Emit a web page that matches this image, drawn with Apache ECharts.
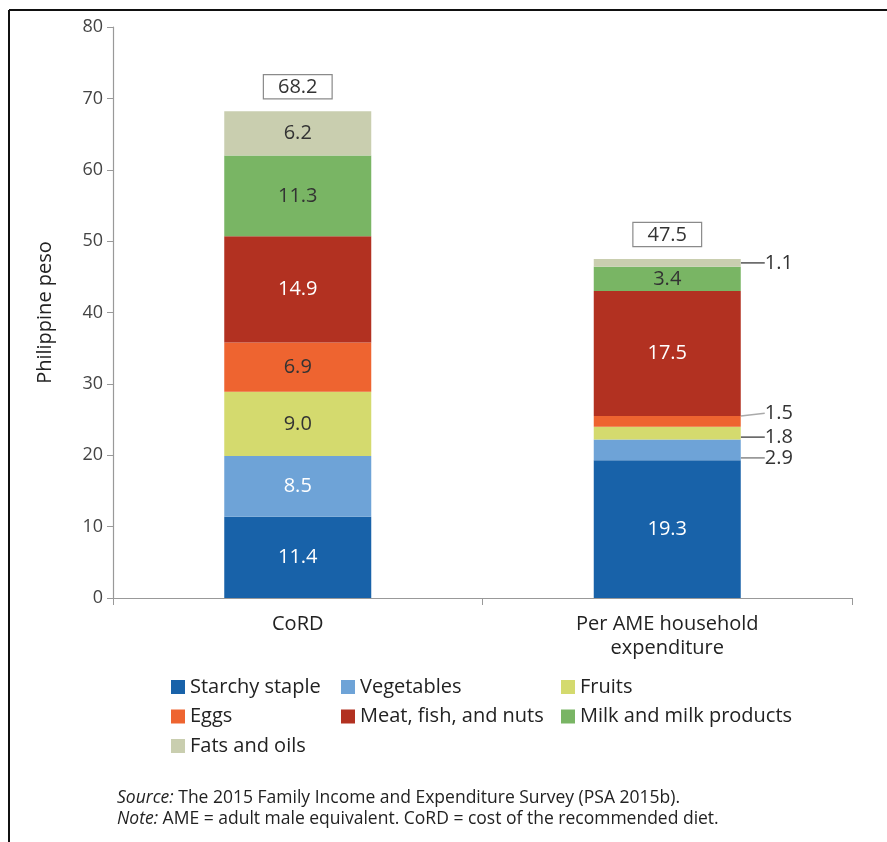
<!DOCTYPE html>
<html><head><meta charset="utf-8">
<script src="https://cdn.jsdelivr.net/npm/echarts@6/dist/echarts.min.js"></script>
<style>html,body{margin:0;padding:0;background:#fff}#c{width:887px;height:842px}</style>
</head><body><div id="c"></div>
<script>
const categories = ['CoRD', 'Per AME household\nexpenditure'];
const seriesNames = ['Starchy staple','Vegetables','Fruits','Eggs','Meat, fish, and nuts','Milk and milk products','Fats and oils'];
const starchy = [11.4, 19.3];
const vegetables = [8.5, 2.9];
const fruits = [9.0, 1.8];
const eggs = [6.9, 1.5];
const meat = [14.9, 17.5];
const milk = [11.3, 3.4];
const fats = [6.2, 1.1];
const totals = [68.2, 47.5];
const yTicks = [0,10,20,30,40,50,60,70,80];

const colors = ['#1862a9','#6ea3d7','#d4da6e','#ee6430','#b23121','#79b564','#c9ceaf'];
const textColors = ['#fff','#fff','#333','#333','#fff','#333','#333'];
const values = [starchy, vegetables, fruits, eggs, meat, milk, fats];
const FONT = 'Open Sans';

// outside labels for small segments of 2nd bar: vertical shifts
const outside = {1:{dy:8,line:'#888'},2:{dy:4,line:'#555'},3:{dy:-8,line:'#aaa'},6:{dy:0,line:'#555'}};

const series = seriesNames.map((n,i)=>({
  name:n, type:'bar', stack:'a', barWidth:147,
  itemStyle:{color:colors[i]},
  data: values[i].map((v,j)=>{
    const d = {value:v};
    if (j===1 && outside[i]) {
      d.label = {show:true, position:'right', distance:24, color:'#333', fontSize:20, fontFamily:FONT, formatter: p=>p.value.toFixed(1)};
      d.labelLine = {show:true, lineStyle:{color:outside[i].line, width:1.5}};
    }
    return d;
  }),
  labelLayout: outside[i] ? function(p){ return p.dataIndex===1 ? {dy: outside[i].dy} : {}; } : undefined,
  label:{show:true, position:'inside', color:textColors[i], fontSize:20, fontFamily:FONT, formatter:p=>p.value.toFixed(1)},
  labelLine:{show:false},
  emphasis:{disabled:true}
}));
series.push({
  name:'Total', type:'bar', barWidth:147, barGap:'-100%', z:0,
  itemStyle:{color:'rgba(0,0,0,0)'},
  data: totals,
  label:{show:true, position:'top', distance:13, color:'#333', fontSize:20, fontFamily:FONT,
    borderColor:'#8a8a8a', borderWidth:1.2, backgroundColor:'#fff', padding:[2,14,1,14],
    formatter:p=>p.value.toFixed(1)},
  emphasis:{disabled:true}
});

const legendBase = {orient:'vertical', itemWidth:14, itemHeight:14, itemGap:9.5, icon:'rect',
  textStyle:{fontSize:20, fontFamily:FONT, color:'#222'}, selectedMode:false};

const chart = echarts.init(document.getElementById('c'));
chart.setOption({
  animation:false,
  color:colors,
  grid:{left:113, right:35, top:27, bottom:244},
  xAxis:{type:'category', data:categories,
    axisLine:{lineStyle:{color:'#999', width:1.2}},
    axisTick:{show:true, length:7, lineStyle:{color:'#999'}},
    axisLabel:{fontSize:20, fontFamily:FONT, color:'#222', margin:14, lineHeight:24}},
  yAxis:{type:'value', min:0, max:80, interval:10,
    name:'Philippine peso', nameLocation:'middle', nameGap:58, nameRotate:90,
    nameTextStyle:{fontSize:20, fontFamily:FONT, color:'#222'},
    axisLine:{show:true, lineStyle:{color:'#999', width:1.2}},
    axisTick:{show:true, length:6, lineStyle:{color:'#999'}},
    splitLine:{show:false},
    axisLabel:{fontSize:18, fontFamily:FONT, color:'#444', margin:10,
      formatter:v=>yTicks.includes(v)?String(v):''}},
  legend:[
    Object.assign({}, legendBase, {left:166, top:672, data:[seriesNames[0],seriesNames[3],seriesNames[6]]}),
    Object.assign({}, legendBase, {left:336, top:672, data:[seriesNames[1],seriesNames[4]]}),
    Object.assign({}, legendBase, {left:556, top:672, data:[seriesNames[2],seriesNames[5]]})
  ],
  graphic:[
    {type:'line', shape:{x1:9, y1:10, x2:887, y2:10}, style:{stroke:'#111', lineWidth:2}},
    {type:'line', shape:{x1:9, y1:10, x2:9, y2:842}, style:{stroke:'#111', lineWidth:2}},
    {type:'text', left:117, top:787, style:{
      text:'{i|Source:} The 2015 Family Income and Expenditure Survey (PSA 2015b).\n{i|Note:} AME = adult male equivalent. CoRD = cost of the recommended diet.',
      fontSize:17.5, fontFamily:FONT, fill:'#222', lineHeight:21.5,
      rich:{i:{fontStyle:'italic', fontSize:17.5, fontFamily:FONT, fill:'#222', lineHeight:21.5}}}}
  ],
  series:series
});
</script></body></html>
